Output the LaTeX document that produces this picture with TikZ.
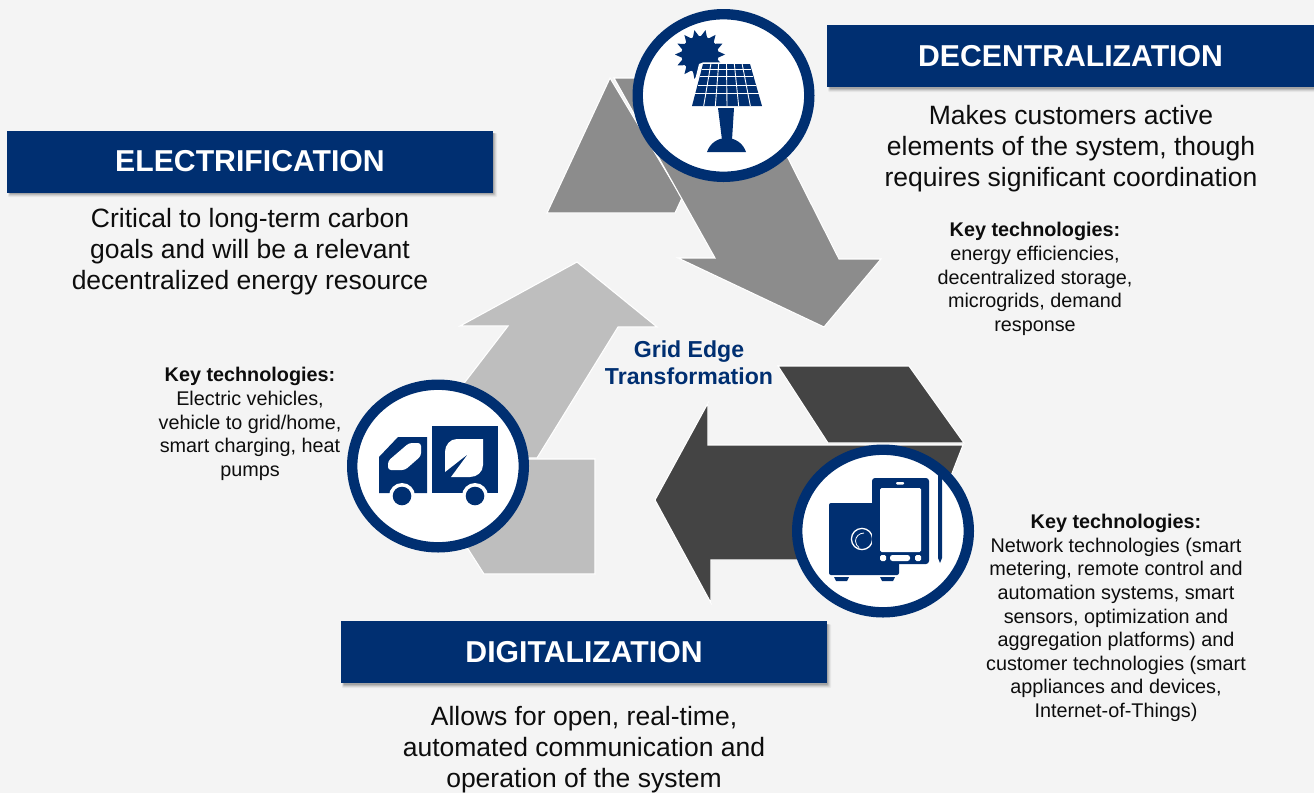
\documentclass[tikz,border=0pt]{standalone}
\usepackage{fontspec}
\usetikzlibrary{calc,shapes.geometric}
\setmainfont{Liberation Sans}
\definecolor{navy}{RGB}{0,47,113}
\definecolor{bgc}{RGB}{244,244,244}
\definecolor{gmid}{RGB}{140,140,140}
\definecolor{glight}{RGB}{190,190,190}
\definecolor{gdark}{RGB}{68,68,68}
\tikzset{
  banner/.style={fill=navy,text=white,font=\fontsize{30.2}{34}\selectfont\bfseries,minimum width=486pt,minimum height=62pt,inner sep=0pt,anchor=center},
  bigtext/.style={align=center,text=black!95,font=\fontsize{26.5}{30.9}\selectfont,inner sep=0pt},
  keytext/.style={align=center,text=black!95,font=\fontsize{19.8}{23.6}\selectfont,inner sep=0pt},
  ring/.style={ellipse,draw=navy,fill=white,line width=10.4pt,minimum width=171.6pt,minimum height=162.6pt,inner sep=0pt},
  arrowmid/.style={fill=gmid,draw=white,line width=1.1pt,line join=miter},
  arrowlight/.style={fill=glight,draw=white,line width=1.1pt},
  arrowdark/.style={fill=gdark,draw=white,line width=1.1pt},
  icon/.style={fill=navy,draw=none},
  iconw/.style={fill=white,draw=none}
}
\newcommand{\softshadow}[4]{%
  \foreach \d/\o in {4/.05,3/.07,2/.10,1/.14}{
    \fill[black,opacity=\o,rounded corners=1pt] ({#1+3-\d*.5},{#2+3}) rectangle ({#3+\d},{#4+\d+1});
  }}
\begin{document}
\begin{tikzpicture}[x=1pt,y=-1pt]
\useasboundingbox (0,0) rectangle (1314,793);
\fill[bgc] (0,0) rectangle (1314,793);

% mid-grey arrow
\draw[arrowmid] (610,78) -- (547,213) -- (675,213) -- (682,198) -- cycle;
\draw[arrowmid] (614,78) -- (680,78) -- (788,158) -- (839,259) -- (881,259) -- (824,327) -- (678,258) -- (715,258) -- cycle;
% light arrow
\draw[arrowlight] (500,459) -- (595,459) -- (595,574) -- (484,574) -- (440,505) -- cycle;
\draw[arrowlight] (420,440) -- (465,382) -- (508,326) -- (460,326) -- (577,262) -- (657,327) -- (618,327) -- (537,458) -- (500,458) -- (480,480) -- cycle;
% dark arrow
\draw[arrowdark] (778,366) -- (909,366) -- (964,443) -- (828,443) -- cycle;
\draw[arrowdark] (963,445) -- (930,530) -- (880,560) -- (711,560) -- (711,603) -- (655,500) -- (708,403) -- (708,445) -- cycle;

% rings
\node[ring] (solar) at (723.5,95.5) {};
\node[ring] (device) at (883,531) {};
\node[ring] (truck) at (438,466) {};

% solar icon
\fill[icon] (700,54.5) circle (18.5);
\foreach \a in {0,25.7,...,340}{
  \fill[icon] ($(700,54.5)+(\a:25)$) -- ($(700,54.5)+(\a+13:17)$) -- ($(700,54.5)+(\a-13:17)$) -- cycle;
}
\fill[iconw] (699,64) -- (703,62.4) -- (754,62.4) -- (766,108) -- (688,108) -- cycle;
\fill[icon] (703,64) -- (750,64) -- (762,106) -- (692,106) -- cycle;
\foreach \t in {0.12,0.29,0.5,0.71}{
  \draw[white,line width=.9pt] ({703-11*\t},{64+42*\t}) -- ({750+12*\t},{64+42*\t});
}
\foreach \s in {1,...,5}{
  \draw[white,line width=.9pt] ({703+47*\s/6},64) -- ({692+70*\s/6},106);
}
\fill[icon] (718,108) -- (734,108) -- (732,140) -- (722,140) -- cycle;
\fill[icon] (707,152) .. controls (710,143) and (718,138) .. (726.5,138) .. controls (735,138) and (743,143) .. (746,152) -- cycle;

% device icon
\fill[icon,rounded corners=2pt] (829,503) rectangle (899,575);
\draw[white,line width=1.3pt] (862,539) circle (10.6);
\draw[white,line width=.8pt] (864,533) .. controls (859,533) and (855.5,537) .. (855.5,541) .. controls (855.5,544) and (857,546) .. (859,547.5);
\fill[icon,rounded corners=3pt] (872,478) rectangle (929,564);
\fill[iconw,rounded corners=1.5pt] (880,488) rectangle (921,552);
\fill[iconw,rounded corners=1pt] (896,482) rectangle (904,484.5);
\fill[iconw,rounded corners=1.5pt] (880,555) rectangle (886,561);
\fill[iconw,rounded corners=2.5pt] (890,555) rectangle (910,561);
\fill[iconw,rounded corners=1.5pt] (915,555) rectangle (921,561);
\fill[icon] (834,577) -- (849,577) -- (847,581) -- (836,581) -- cycle;
\fill[icon] (880,577) -- (895,577) -- (893,581) -- (882,581) -- cycle;
\fill[icon] (938,475) -- (942,475) -- (942,558) -- (940,563) -- (938,558) -- cycle;

% truck icon
\fill[icon] (379,457) -- (398,437) -- (427,437) -- (427,493) -- (379,493) -- cycle;
\fill[iconw,rounded corners=3pt] (409,443) -- (421,443) -- (421,456) -- (405,470) -- (388,470) -- (388,461) -- cycle;
\fill[icon] (432,426) rectangle (498,493);
\fill[iconw] (402,496) circle (13);
\fill[iconw] (475,496) circle (13);
\fill[icon] (402,496) circle (9.3);
\fill[icon] (475,496) circle (9.3);
\fill[iconw] (483,439) -- (457,439) .. controls (450,439) and (445,445) .. (445,452) -- (445,472) -- (468,454) -- (451,477) -- (470,477) .. controls (477,477) and (483,472) .. (483,465) -- cycle;

% banners
\softshadow{7}{130}{493}{192}
\softshadow{341}{621}{827}{683}
\softshadow{827}{25}{1314}{87}
\node[banner] (elec) at (250,161.5) {ELECTRIFICATION};
\node[banner] (digi) at (584,652) {DIGITALIZATION};
\node[banner,minimum width=487pt] (dece) at (1070.5,56) {DECENTRALIZATION};

% texts
\node[bigtext] (electxt) at (250,252) {Critical to long-term carbon\\goals and will be a relevant\\decentralized energy resource};
\node[bigtext] (decetxt) at (1071,149) {Makes customers active\\elements of the system, though\\requires significant coordination};
\node[bigtext] (digitxt) at (584,750) {Allows for open, real-time,\\automated communication and\\operation of the system};
\node[keytext] (eleckey) at (250,424) {\textbf{Key technologies:}\\Electric vehicles,\\vehicle to grid/home,\\smart charging, heat\\pumps};
\node[keytext] (decekey) at (1035,279) {\textbf{Key technologies:}\\energy efficiencies,\\decentralized storage,\\microgrids, demand\\response};
\node[keytext] (digikey) at (1116,618) {\textbf{Key technologies:}\\Network technologies (smart\\metering, remote control and\\automation systems, smart\\sensors, optimization and\\aggregation platforms) and\\customer technologies (smart\\appliances and devices,\\Internet-of-Things)};
\node[align=center,text=navy,font=\fontsize{23.1}{27}\selectfont\bfseries,inner sep=0pt] (center) at (689,363) {Grid Edge\\Transformation};
\end{tikzpicture}
\end{document}
